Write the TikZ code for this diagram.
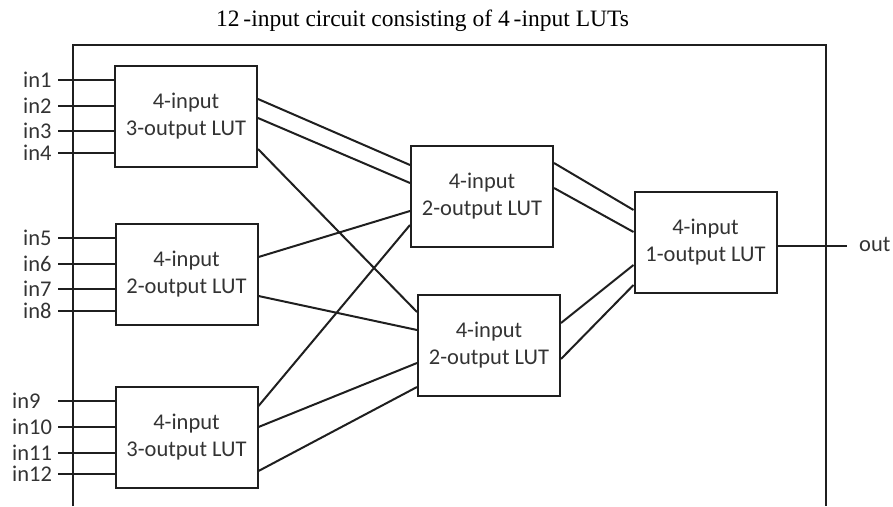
\documentclass[tikz,border=0pt]{standalone}
\usepackage{fontspec}
\setmainfont{Carlito}
\newfontfamily\titlefont{Liberation Serif}
\begin{document}
\begin{tikzpicture}[x=1pt,y=-1pt,
  lut/.style={draw=black!88, line width=2pt, minimum width=142pt, minimum height=101pt,
    align=center, font=\fontsize{22.5}{27}\selectfont, text=black!80, inner sep=0pt},
  wire/.style={line width=2pt, draw=black!88},
  lbl/.style={font=\fontsize{22.5}{26}\selectfont, text=black!80, inner sep=0pt, anchor=west}]
\useasboundingbox (0,0) rectangle (893,506);
% title
\node[font=\titlefont\fontsize{23.5}{27}\selectfont, anchor=base, inner sep=0pt] (title) at (422.5,26)
  {12\,-input circuit consisting of 4\,-input LUTs};
% outer frame
\coordinate (f1) at (73,506);
\coordinate (f2) at (73,45);
\coordinate (f3) at (826,45);
\coordinate (f4) at (826,506);
\draw[wire] (f1) -- (f2) -- (f3) -- (f4);
% LUTs
\node[lut] (B1) at (186,116) {4-input\\3-output LUT};
\node[lut] (B2) at (186.5,274) {4-input\\2-output LUT};
\node[lut] (B3) at (186.5,437) {4-input\\3-output LUT};
\node[lut] (M1) at (482,196.5) {4-input\\2-output LUT};
\node[lut] (M2) at (489,345) {4-input\\2-output LUT};
\node[lut] (R) at (705.5,242.5) {4-input\\1-output LUT};
% inputs
\foreach \i/\y/\x/\b in {1/80/23/B1,2/106/23/B1,3/131/23/B1,4/153/23/B1,
                          5/238/23/B2,6/264/23/B2,7/289/23/B2,8/311/23/B2,
                          9/401/12/B3,10/427/12/B3,11/453/12/B3,12/474/12/B3}{
  \node[lbl] (l\i) at (\x,\y) {in\i};
  \coordinate (s\i) at (58,\y);
  \draw[wire] (s\i) -- (s\i -| \b.west);
}
% first level to second level
\draw[wire] ([yshift=17pt]B1.east) -- ([yshift=31.5pt]M1.west);
\draw[wire] ([yshift=-2pt]B1.east) -- ([yshift=13.5pt]M1.west);
\draw[wire] ([yshift=-33pt]B1.east) -- ([yshift=33pt]M2.west);
\draw[wire] ([yshift=17pt]B2.east) -- ([yshift=-14.5pt]M1.west);
\draw[wire] ([yshift=-22pt]B2.east) -- ([yshift=15pt]M2.west);
\draw[wire] ([yshift=31pt]B3.east) -- ([yshift=-28.5pt]M1.west);
\draw[wire] ([yshift=10pt]B3.east) -- ([yshift=-18pt]M2.west);
\draw[wire] ([yshift=-34pt]B3.east) -- ([yshift=-42pt]M2.west);
% second level to output LUT
\draw[wire] ([yshift=33.5pt]M1.east) -- ([yshift=32.5pt]R.west);
\draw[wire] ([yshift=8.5pt]M1.east) -- ([yshift=10.5pt]R.west);
\draw[wire] ([yshift=22pt]M2.east) -- ([yshift=-22.5pt]R.west);
\draw[wire] ([yshift=-14pt]M2.east) -- ([yshift=-42.5pt]R.west);
% output
\coordinate (o) at (847,246);
\draw[wire] (R.east |- o) -- (o);
\node[lbl] (out) at (859,244) {out};
\end{tikzpicture}
\end{document}
